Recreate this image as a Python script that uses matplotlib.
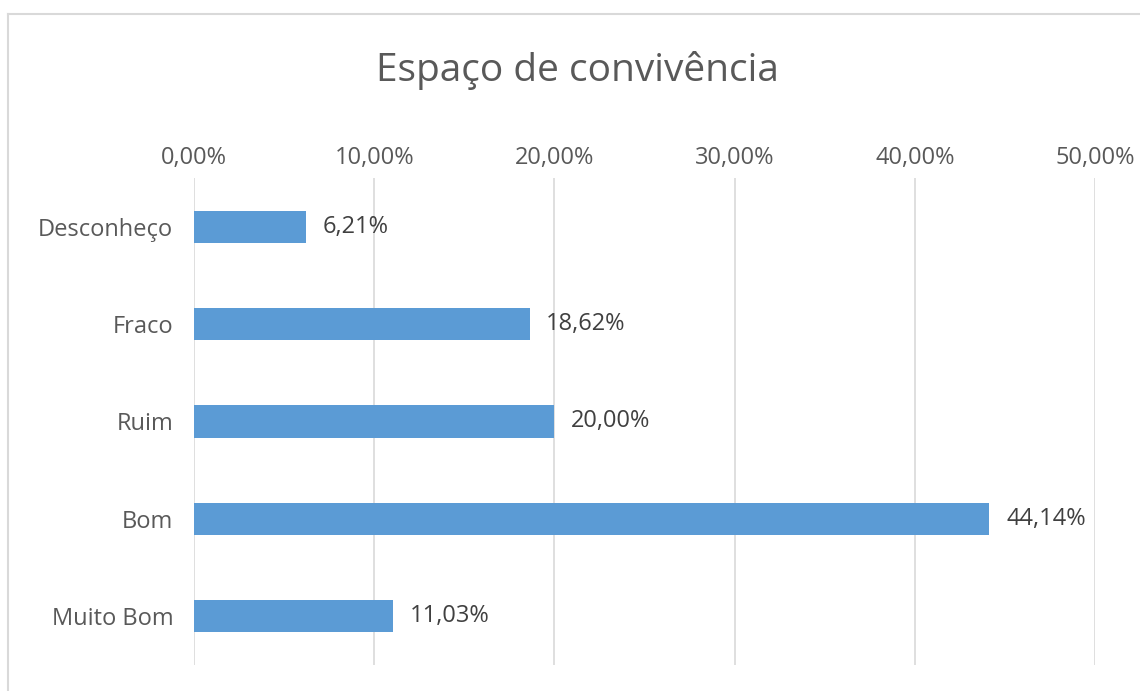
import matplotlib
matplotlib.use("Agg")
import matplotlib.pyplot as plt
from matplotlib.lines import Line2D

categories = ["Desconheço", "Fraco", "Ruim", "Bom", "Muito Bom"]
values = [6.21, 18.62, 20.00, 44.14, 11.03]
xticks = [0, 10, 20, 30, 40, 50]
title = "Espaço de convivência"

def pct(v):
    return f"{v:.2f}%".replace(".", ",")

plt.rcParams['font.family'] = ['Open Sans', 'DejaVu Sans']
W, H = 1140, 691
fig = plt.figure(figsize=(W / 100, H / 100), dpi=100)
fig.patch.set_facecolor("white")

ax = fig.add_axes([194 / W, 26 / H, 901 / W, 487 / H])
ypos = list(range(len(categories)))
ax.barh(ypos, values, height=0.33, color="#5B9BD5", zorder=3)
ax.set_xlim(0, 50)
ax.set_ylim(len(categories) - 0.5, -0.5)
ax.set_yticks(ypos)
ax.set_yticklabels(categories, fontsize=17, color="#595959")
ax.set_xticks(xticks)
ax.set_xticklabels([pct(t) for t in xticks], fontsize=17, color="#595959")
ax.xaxis.tick_top()
ax.tick_params(axis="both", length=0)
ax.tick_params(axis="x", pad=6)
ax.tick_params(axis="y", pad=15)
for s in ax.spines.values():
    s.set_visible(False)
ax.grid(axis="x", color="#d9d9d9", linewidth=1.2, zorder=0)
ax.set_axisbelow(True)

for y, v in zip(ypos, values):
    ax.annotate(pct(v), (v, y), xytext=(12, 0), textcoords="offset points",
                va="center", ha="left", fontsize=17, color="#404040")

fig.text(577 / W, 1 - 70 / H, title, ha="center", va="center",
         fontsize=28, color="#595959")

fig.add_artist(Line2D([8 / W, 8 / W], [0, 1 - 14 / H], color="#d9d9d9",
                      linewidth=1.5, transform=fig.transFigure))
fig.add_artist(Line2D([8 / W, 1], [1 - 14 / H, 1 - 14 / H], color="#d9d9d9",
                      linewidth=1.5, transform=fig.transFigure))

fig.savefig("out.png", dpi=100)
